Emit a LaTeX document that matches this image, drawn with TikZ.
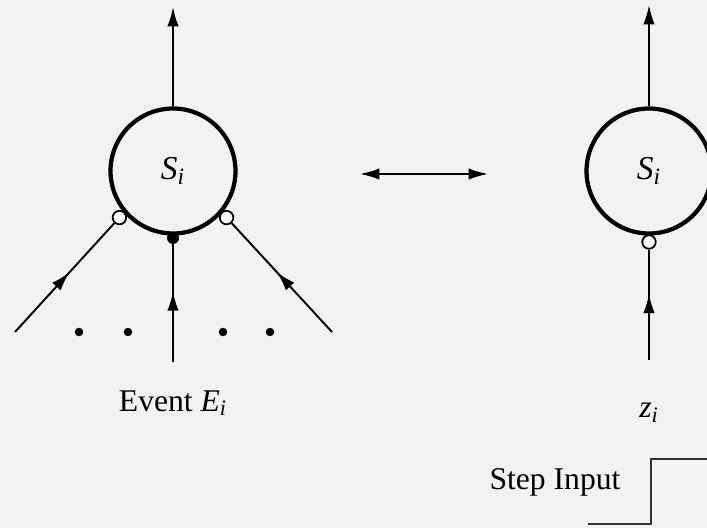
\documentclass[tikz,border=0pt]{standalone}
\usepackage{fontspec}
\setmainfont{Liberation Serif}
\usetikzlibrary{arrows.meta,positioning,calc,decorations.markings}
\definecolor{paper}{RGB}{242,242,240}
\tikzset{
  statenode/.style={draw, circle, line width=2.4pt, minimum size=2.5cm, inner sep=0pt,
    font=\fontsize{19}{23}\selectfont},
  openport/.style={draw, circle, fill=white, line width=1pt, minimum size=0.27cm, inner sep=0pt},
  fillport/.style={fill, circle, minimum size=0.24cm, inner sep=0pt},
  dotnode/.style={fill, circle, minimum size=0.17cm, inner sep=0pt},
  labeltext/.style={font=\fontsize{18}{22}\selectfont, inner sep=0pt},
  eventarrow/.style={-{Latex[length=11pt, width=6.5pt]}, line width=1.1pt},
  midarrow/.style={line width=1.1pt, postaction={decorate},
    decoration={markings, mark=at position #1 with {\arrow{Latex[length=11pt, width=6.5pt]}}}}
}

\begin{document}
\begin{tikzpicture}[x=0.02cm, y=0.02cm]
    \fill[paper] (0,0) rectangle (707,528);
    \useasboundingbox (0,0) rectangle (707,528);
    % left: event driven state
    \node[statenode] (sl) at (173,357) {\itshape S\textsubscript{\itshape i}};
    \coordinate (sltop) at (173,521);
    \draw[eventarrow] (sl.north) -- (sltop);
    \node[openport] (pl) at ($(sl.center)+(221:71)$) {};
    \node[openport] (pr) at ($(sl.center)+(319:71)$) {};
    \node[fillport] (pm) at (173,290) {};
    \coordinate (inl) at (15,196);
    \coordinate (inr) at (332,196);
    \coordinate (inm) at (173,166);
    \draw[midarrow=0.55] (inl) -- (pl);
    \draw[midarrow=0.55] (inr) -- (pr);
    \draw[midarrow=0.6] (inm) -- (pm);
    \foreach \x/\n in {79/a,128/b,223/c,270/d}
      \node[dotnode] (dot\n) at (\x,196) {};
    \node[labeltext] (ev) at (173,125) {Event \textit{E}\textsubscript{\itshape i}};
    % equivalence
    \coordinate (eqa) at (360,354);
    \coordinate (eqb) at (488,354);
    \draw[{Latex[length=11pt, width=6.5pt]}-{Latex[length=11pt, width=6.5pt]}, line width=1.1pt] (eqa) -- (eqb);
    % right: step driven state
    \node[statenode] (sr) at (649,357) {\itshape S\textsubscript{\itshape i}};
    \coordinate (srtop) at (649,523);
    \draw[eventarrow] (sr.north) -- (srtop);
    \node[openport] (pz) at ($(sr.center)+(270:71)$) {};
    \coordinate (inz) at (649,168);
    \draw[midarrow=0.6] (inz) -- (pz);
    \node[labeltext] (zi) at (649,115) {\itshape z\textsubscript{\itshape i}};
    \node[labeltext] (step) at (555,46) {Step Input};
    \coordinate (sta) at (588,4);
    \coordinate (stb) at (651,4);
    \coordinate (stc) at (651,69);
    \coordinate (std) at (712,69);
    \draw[line width=0.9pt, black!80] (sta) -- (stb) -- (stc) -- (std);
  \end{tikzpicture}
\end{document}
